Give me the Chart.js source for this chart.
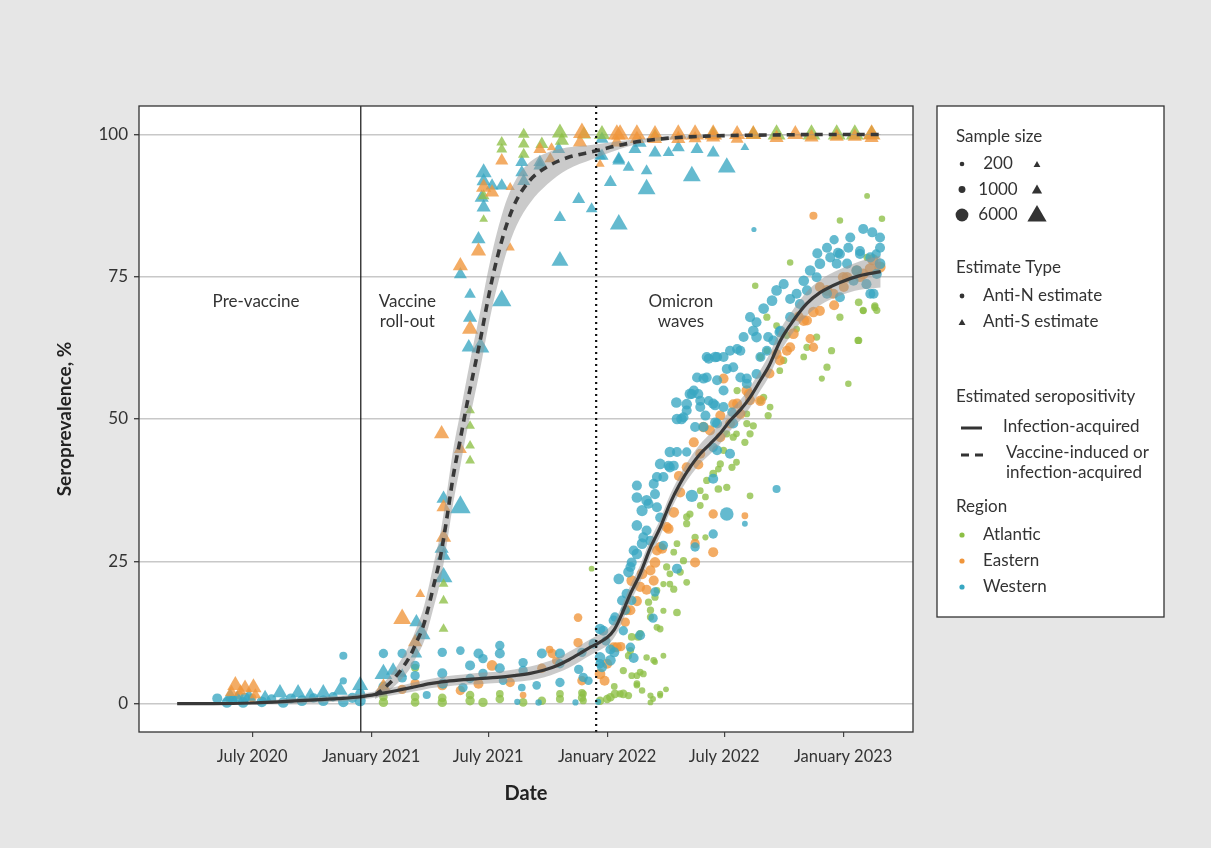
<!DOCTYPE html>
<html>
<head>
<meta charset="utf-8">
<title>Seroprevalence over time</title>
<script src="https://cdn.jsdelivr.net/npm/chart.js@4.4.1/dist/chart.umd.min.js"></script>
<style>
  html, body { margin: 0; padding: 0; background: #e6e6e6; }
  #wrap { width: 1211px; height: 848px; }
</style>
</head>
<body>
<div id="wrap"><canvas id="seroChart" width="1211" height="848"></canvas></div>
<script>
// x values are days since 1 July 2020
const tickDays = [0, 184, 365, 549, 730, 914];
const tickLabels = ['July 2020', 'January 2021', 'July 2021', 'January 2022', 'July 2022', 'January 2023'];
const yTicks = [0, 25, 50, 75, 100];

const vaccineStartDay = 168; // solid vertical line
const omicronDay = 532;      // dotted vertical line

const phaseLabels = [
  { lines: ['Pre-vaccine'], x: 6, y: 70.6 },
  { lines: ['Vaccine', 'roll-out'], x: 240, y: 70.6 },
  { lines: ['Omicron', 'waves'], x: 663, y: 70.6 }
];

// points: [day, seroprevalence %, sample size]
const westernN = [
  [-54,0.9,2500],[-39,0.2,3000],[-30,0.6,2000],[-14,0.2,3000],[-11,1.0,2500],[15,0.3,3000],[30,0.8,2000],
  [48,0.2,3000],[77,0.5,3000],[95,1.0,2000],[110,0.5,3000],[125,1.2,2000],[141,0.3,3000],[167,0.5,3500],
  [167,1.7,2500],[141,8.4,1200],[141,4.0,800],[60,0.9,2500],[155,1.0,2500],
  [203,8.8,2000],[232,8.8,2000],[252,6.7,2000],[252,4.9,2000],[294,9.0,2000],[294,5.3,2500],[322,9.3,1500],
  [337,6.7,2500],[350,8.8,2500],[357,7.9,2000],[383,10.2,2000],[383,8.8,2500],[383,6.2,2500],[419,7.2,2000],
  [419,5.8,2000],[448,8.8,2500],[476,8.8,2500],[476,7.0,2000],[510,9.0,2000],[538,7.0,2000],[295,3.5,2500],
  [326,2.8,2000],[337,4.4,2000],[357,5.3,2000],[388,4.0,1500],[417,2.8,1000],[440,3.2,1500],[476,3.7,2000],
  [443,0.2,500],[203,3.0,2500],[232,4.5,2000],[270,1.5,1200],[410,0.3,400],[505,6.0,2000],[520,4.0,1500],
  [535,0.3,400],[500,0.2,400],
  [512,4.6,2000],[538,13.1,3000],[538,8.1,3000],[554,7.6,3000],[541,6.4,2500],[585,9.9,2000],[561,15.2,2000],
  [574,12.8,2000],[577,16.4,2000],[572,18.1,2500],[587,18.1,2000],[579,19.3,2500],[567,21.9,3000],[582,23.1,3000],
  [587,24.8,2500],[595,26.3,3000],[603,28.1,3000],[616,28.6,2500],[610,30.4,2500],[595,31.3,3000],[631,32.7,2500],
  [603,33.9,3500],[613,35.1,2500],[626,34.5,2500],[610,35.7,3000],[595,36.2,3000],[623,36.8,2500],[595,38.3,2500],
  [626,39.8,2500],[636,39.8,2500],[631,42.1,3000],[644,41.8,2500],[652,41.8,2500],[646,44.2,3000],[657,44.2,2500],
  [672,44.2,2000],[656,52.9,3000],[672,52.6,3000],[672,51.5,2500],[680,54.4,2500],[693,53.2,2500],[706,53.2,2000],
  [701,50.6,2500],[716,52.4,2500],[729,55.0,2500],[657,50.0,3000],[664,50.0,3000],[685,48.6,2500],[698,48.6,2500],
  [716,49.4,2500],[742,51.2,2000],[734,33.3,6000],[762,31.6,300],[713,29.8,2000],[713,39.5,2500],[811,37.7,1200],
  [680,36.5,4500],[657,23.7,2500],[636,27.8,2000],[623,19.6,2000],[685,27.5,2000],[713,45.0,2000],[600,12.0,2500],
  [590,8.0,2500],[620,15.0,2000],[560,9.0,2500],[547,11.0,2000],
  [667,50.3,2500],[677,54.4,3000],[688,57.3,2500],[698,57.1,2500],[706,60.6,2500],[716,60.9,3000],[729,60.9,2500],
  [739,62.0,2500],[750,62.3,2500],[734,58.8,2500],[719,56.8,2500],[755,57.3,2500],[765,57.1,2500],[775,65.5,3000],
  [780,64.4,3000],[760,64.4,2500],[791,69.4,3000],[804,70.8,3000],[811,72.6,3000],[822,73.7,2500],[832,71.1,2500],
  [842,72.0,2500],[853,74.3,3000],[863,76.1,3000],[878,77.3,3000],[894,78.4,2500],[909,79.0,2500],[920,77.3,2500],
  [935,76.1,3000],[950,73.7,2500],[961,72.0,2500],[971,77.3,3000],[806,63.8,2500],[816,65.3,3000],[798,64.4,2500],
  [770,67.9,2500],[780,67.0,2500],[690,54.4,2500],[693,52.1,2500],[847,70.2,2500],[889,72.0,2500],[909,71.4,2500],
  [930,74.3,2500],[956,72.0,2500],[719,44.5,2500],[739,43.9,2500],[925,81.9,2500],[945,83.4,2500],[959,82.8,2500],
  [971,81.9,2500],[889,80.1,2500],[906,79.2,2500],[874,79.1,2500],[922,80.1,2500],[971,80.1,2500],[956,78.4,2500],
  [940,79.5,2500],[900,81.5,2000],[965,79.0,2000],[776,83.3,150],
  [703,60.9,2500],[719,60.9,2500],[755,62.0,2500],[786,60.9,2500],[796,62.0,2500],[744,59.1,2500],[703,57.3,2500],
  [683,55.0,2500],[713,52.7,2500],[729,52.1,2500],[719,49.2,2500],[744,49.2,2500],[765,56.2,2500],[780,57.9,2500],
  [817,65.5,2500],[832,67.9,2500],[858,72.6,2500],[873,74.9,2500],[904,77.3,2500],[940,79.0,2500],[966,75.5,2500],
  [646,41.5,2500],[621,38.6,2500],[605,29.2,2500],[590,26.9,2500],[585,24.0,2500],[559,14.6,2500],[543,12.8,2500],
  [528,10.5,2500],[554,9.5,2500]
];

const easternN = [
  [-20,1.5,1500],[0,1.0,1500],[-35,0.8,1000],
  [371,6.7,3000],[399,3.7,2000],[464,8.8,2000],[504,10.7,2000],[504,15.1,1500],[252,3.5,2000],[294,3.2,2500],
  [322,2.3,2000],[350,3.5,2500],[448,6.2,2000],[510,4.0,2000],[460,9.5,1000],[470,7.5,1200],[232,2.5,2000],
  [419,1.5,600],
  [538,5.2,3000],[559,9.9,2500],[579,16.4,2500],[587,21.6,3000],[603,22.8,3000],[623,24.8,3000],[621,21.6,2500],
  [634,27.2,2500],[626,26.9,2500],[644,30.7,2500],[652,33.6,3000],[662,37.1,2500],[685,28.1,2000],[713,26.6,2500],
  [685,24.8,2500],[713,33.3,2000],[762,33.0,600],[698,48.6,3000],[683,45.9,2500],[708,48.0,2500],[724,50.6,2500],
  [744,52.6,2500],[768,54.4,2500],[786,53.2,3000],[577,14.3,2000],[729,57.1,2500],[750,52.7,2500],[765,55.0,3000],
  [816,60.3,2500],[827,62.0,2500],[837,65.0,3000],[853,67.3,3000],[868,68.8,3000],[889,72.6,3000],[899,72.0,2500],
  [914,74.9,3000],[935,76.1,3000],[956,76.4,3500],[971,76.7,3500],[868,62.6,2000],[863,64.1,2000],[920,74.9,3000],
  [878,73.2,2500],[868,85.7,1200],[545,4.0,2500],[570,10.0,2000],[595,18.0,2500],[610,20.0,2500],[660,40.0,2500],
  [690,42.0,2500],[800,58.0,2500],[960,78.0,3500],[940,75.0,3000],[900,70.0,2500],[845,68.0,2500],
  [811,61.4,2500],[832,62.6,2500],[858,67.3,2500],[878,69.0,2500],[915,73.2,2500],[945,75.5,3000],[770,53.3,2500],
  [755,50.9,2500],[739,49.2,2500],[724,46.8,2500],[693,43.9,2500],[672,41.5,2500],[641,31.0,2500],[631,27.5,2500],
  [616,23.4,2500],[600,20.5,2500],[585,16.4,2500],[564,9.9,2500],[549,7.0,2500]
];

const atlanticN = [
  [203,0.2,2000],[252,0.2,1500],[294,0.2,2000],[337,0.5,2000],[357,0.2,2000],[383,0.8,1500],[419,0.2,1500],
  [448,0.5,1500],[476,0.8,1200],[510,1.0,1200],[538,0.5,1500],[549,0.8,1500],[252,6.3,1200],[383,1.7,1000],
  [476,1.7,1000],[510,1.9,1000],[203,1.2,1500],[294,1.0,1500],[337,1.5,1500],[252,1.2,1500],
  [512,1.7,800],[512,0.5,800],[554,1.1,1500],[561,1.7,1500],[574,1.7,1500],[582,1.4,800],[603,2.3,500],
  [616,1.4,400],[631,1.4,300],[616,0.2,300],[595,3.2,500],[610,8.1,500],[623,7.3,300],[636,8.4,300],[574,5.8,800],
  [587,4.9,600],[595,4.9,600],[582,8.4,800],[587,11.7,1000],[597,11.7,1000],[626,13.4,600],[631,13.1,600],
  [616,15.2,800],[657,16.0,1000],[636,16.3,400],[613,17.8,800],[623,18.7,800],[646,21.0,600],[652,20.1,800],
  [636,21.0,400],[662,23.1,800],[672,21.3,600],[646,22.8,600],[652,26.6,600],[667,25.1,800],[685,29.2,800],
  [701,29.2,400],[672,31.6,800],[677,33.3,800],[693,34.8,600],[701,36.3,600],[721,37.7,1000],[734,38.0,800],
  [770,36.5,600],[713,40.4,1000],[721,41.2,600],[742,41.5,800],[749,42.4,600],[729,44.5,800],[734,47.4,800],
  [749,47.4,600],[762,45.9,800],[770,47.4,800],[775,48.8,800],[798,50.6,800],[786,53.2,800],[525,23.7,300],
  [778,73.4,500],[832,77.5,500],[796,67.9,800],[811,66.4,600],[827,64.7,800],[842,65.8,600],[858,62.6,800],
  [873,64.4,800],[889,59.1,800],[881,57.1,400],[853,60.9,600],[896,62.0,800],[909,67.9,800],[938,70.5,1000],
  [938,63.8,800],[922,56.2,500],[945,69.1,800],[963,69.9,800],[966,69.1,800],[822,60.3,800],[816,58.5,600],
  [786,60.9,800],[796,62.0,600],[750,55.0,800],[765,50.9,600],[951,89.2,300],[974,85.2,500],[909,84.9,500],
  [951,78.4,800],[963,69.6,800],[945,69.0,600],[937,63.8,800],[620,0.8,300],[640,2.5,300],[560,3.0,600],[600,5.5,600],
  [791,53.8,800],[801,52.1,600],[765,49.2,800],[744,46.8,800],[724,42.1,800],[703,39.2,800],[693,37.4,600],
  [672,32.8,800],[657,28.1,600],[641,24.0,800],[626,19.9,600],[616,16.4,800],[600,12.3,800],[585,9.3,800],
  [621,7.6,600],[605,5.2,600],[631,1.7,400],[569,1.7,800],[595,3.5,600]
];

const westernS = [
  [-34,1.2,2500],[-23,0.8,2500],[43,1.9,2500],[71,1.9,2500],[110,1.9,2500],[136,2.3,2500],[167,3.2,3000],
  [20,1.0,2000],[-5,1.2,2000],[90,1.4,2000],
  [203,5.2,4000],[218,5.8,2000],[232,5.2,500],[254,14.3,2000],[262,12.2,4000],[254,8.7,1000],[293,27.2,2000],
  [296,26.0,2000],[296,22.2,4000],[296,36.0,2000],[322,34.5,6000],[322,75.4,1500],[335,62.6,2000],[337,67.8,2000],
  [337,71.9,1000],[353,62.6,4000],[350,81.6,2000],[358,87.2,2000],[355,88.9,2000],[358,91.8,2000],[358,93.3,3000],
  [371,91.0,1500],[386,91.0,1500],[386,70.8,5000],[417,95.1,1500],[417,93.3,1500],[420,91.8,1500],[445,95.1,1500],
  [445,94.5,1500],[474,97.4,1500],[476,85.4,1200],[476,77.8,3500],[505,88.6,1500],[525,86.9,1000],[554,91.6,1500],
  [567,84.2,4000],[567,95.7,1500],[541,96.2,1500],[567,95.4,1500],[582,94.2,1000],[610,93.6,1000],[623,96.8,1500],
  [644,96.8,1000],[659,97.7,1500],[688,97.4,1500],[713,96.8,1500],[680,92.7,4000],[734,94.2,4000],[610,90.4,4000],
  [762,97.7,300],[592,97.4,1500],[538,96.2,1000],[541,99.2,1500],[600,98.5,1500]
];

const easternS = [
  [-26,3.2,3000],[-11,2.8,2000],[2,2.8,3000],[-18,2.2,1000],[5,1.5,1000],[-32,2.0,1500],
  [203,2.9,2500],[232,14.9,4000],[260,19.2,500],[252,10.8,2000],[296,34.5,2000],[296,29.2,2500],[293,47.4,2500],
  [322,44.7,1500],[337,65.8,3000],[322,76.9,2500],[350,79.5,2500],[358,90.7,2500],[371,89.8,2000],[386,95.4,1500],
  [399,90.7,400],[399,80.1,400],[445,97.4,1500],[463,97.7,400],[461,95.7,1000],[510,100.3,4000],[507,98.6,2000],
  [538,94.8,400],[564,100.0,4000],[564,98.6,2000],
  [569,100.0,4000],[595,100.0,4000],[623,100.0,3000],[659,100.0,4000],[685,100.0,4000],[713,100.0,4000],
  [750,100.0,3000],[775,100.0,3000],[840,100.0,3000],[958,100.0,4000],[595,99.2,2000],[623,99.2,2000],
  [659,99.2,2000],[713,99.5,2000],[811,99.4,2000],[865,99.5,2000],[904,99.6,2000],[932,99.6,2000],[958,99.4,2000],
  [750,99.2,1500],[685,99.3,1500]
];

const atlanticS = [
  [296,21.0,500],[296,18.1,500],[296,13.1,500],[337,51.5,500],[337,48.8,500],[337,45.3,500],[337,42.7,500],
  [358,89.2,1000],[358,85.1,300],[386,98.6,800],[386,97.4,800],[420,100.0,1000],[420,98.3,1000],[420,96.5,1000],
  [448,98.3,1500],[476,100.3,3000],[479,98.9,2000],[513,100.0,2000],[541,100.0,3000],
  [811,100.0,4000],[865,100.0,4000],[904,100.0,4000],[932,100.0,4000],[958,100.0,3000],[775,100.0,2500],
  [713,100.0,2500],[623,99.6,2000]
];

// fitted curves
const infDays  = [-116,-60,0,40,90,140,168,200,224,250,275,300,327,352,379,405,430,452,472,490,507,523,538,549,560,569,585,600,616,631,646,662,677,693,708,724,739,755,770,786,800,817,837,858,878,909,940,972];
const infMid   = [0,0,0.1,0.3,0.6,0.9,1.2,1.8,2.3,2.9,3.5,3.9,4.2,4.4,4.6,4.9,5.3,5.9,6.7,7.7,8.8,9.9,10.8,11.6,13.0,15.0,19.3,22.8,27.4,30.9,35.1,38.7,41.5,43.9,45.6,47.5,49.7,51.6,53.8,56.8,59.5,63.8,67.3,70.3,72.2,74.0,75.2,75.9];
const infLow   = [0,0,0,-0.1,0.1,0.4,0.7,1.2,1.6,2.1,2.7,3.0,3.3,3.4,3.6,3.8,4.1,4.6,5.4,6.3,7.4,8.5,9.4,10.2,11.6,13.5,17.8,21.3,25.9,29.4,33.6,37.2,39.9,42.2,43.8,45.7,47.9,49.8,52.0,55.0,57.6,61.8,65.3,68.2,70.0,71.7,72.7,73.1];
const infHigh  = [0.1,0.1,0.3,0.7,1.1,1.4,1.7,2.4,3.0,3.7,4.3,4.8,5.1,5.4,5.6,6.0,6.5,7.2,8.0,9.1,10.2,11.3,12.2,13.0,14.4,16.5,20.8,24.3,28.9,32.4,36.6,40.2,43.1,45.6,47.4,49.3,51.5,53.4,55.6,58.6,61.4,65.8,69.3,72.4,74.4,76.3,77.7,78.7];

const vacDays  = [190,203,218,232,244,255,264,272,280,291,301,311,322,332,342,353,363,373,384,394,409,430,456,487,527,560,600,650,700,800,900,972];
const vacMid   = [1.5,2.6,4.2,6.2,8.3,11.0,13.4,16.6,20.4,25.7,32.5,40.0,46.5,52.5,58.0,64.0,70.0,75.5,80.5,84.3,88.5,92.0,94.3,95.9,97.0,97.9,98.8,99.4,99.7,99.9,100.0,100.0];
const vacLow   = [0.8,1.6,2.8,4.4,6.1,8.4,10.4,13.2,16.6,21.5,28.0,35.3,41.8,47.8,53.0,59.0,65.0,70.5,75.5,79.5,84.0,88.0,91.2,93.8,95.7,97.1,98.4,99.1,99.5,99.8,99.9,99.9];
const vacHigh  = [2.2,3.6,5.6,8.0,10.5,13.6,16.4,20.0,24.2,29.9,37.0,44.7,51.2,57.2,63.0,69.0,75.0,80.2,85.0,88.6,92.3,95.2,96.8,97.7,98.2,98.7,99.2,99.7,99.9,100.0,100.1,100.1];

const legendSizes = [200, 1000, 6000];
const regionNames = ['Atlantic', 'Eastern', 'Western'];
const regionColors = ['#8dbf45', '#f0953a', '#38a7c2'];
const regionFills = ['rgba(141,191,69,0.78)', 'rgba(240,149,58,0.78)', 'rgba(56,167,194,0.78)'];

function dotRadius(n) {
  return 1.8 + 5 * Math.sqrt(n / 6000);
}
function triRadius(n) {
  return 1.75 * dotRadius(n);
}

function toPoints(arr) {
  return arr.map(p => ({ x: p[0], y: p[1], n: p[2] }));
}
function toLine(days, vals) {
  return days.map((d, i) => ({ x: d, y: vals[i] }));
}

function scatterSet(label, arr, fill, style, order) {
  return {
    type: 'scatter',
    label: label,
    data: toPoints(arr),
    pointStyle: style,
    backgroundColor: fill,
    pointBackgroundColor: fill,
    pointBorderWidth: 0,
    pointRadius: ctx => style === 'triangle' ? triRadius(ctx.raw.n) : dotRadius(ctx.raw.n),
    order: order
  };
}

function lineSet(data, opts) {
  return Object.assign({
    type: 'line',
    data: data,
    pointRadius: 0,
    fill: false,
    cubicInterpolationMode: 'monotone'
  }, opts);
}

const FONT = "Lato, 'Noto Sans', sans-serif";
const TEXT = '#333333';

const decor = {
  id: 'decor',
  beforeDraw(chart) {
    const { ctx, chartArea: a } = chart;
    ctx.save();
    ctx.fillStyle = '#e6e6e6';
    ctx.fillRect(0, 0, chart.width, chart.height);
    ctx.fillStyle = '#ffffff';
    ctx.fillRect(a.left, a.top, a.right - a.left, a.bottom - a.top);
    ctx.restore();
  },
  afterDraw(chart) {
    const { ctx, chartArea: a } = chart;
    const xs = chart.scales.x, ys = chart.scales.y;
    ctx.save();
    // phase labels
    ctx.font = '17px ' + FONT;
    ctx.fillStyle = TEXT;
    ctx.textAlign = 'center';
    ctx.textBaseline = 'middle';
    phaseLabels.forEach(p => {
      const px = xs.getPixelForValue(p.x);
      const py = ys.getPixelForValue(p.y);
      p.lines.forEach((t, i) => ctx.fillText(t, px, py + i * 20));
    });
    // panel border
    ctx.strokeStyle = '#333';
    ctx.lineWidth = 1.3;
    ctx.strokeRect(a.left, a.top, a.right - a.left, a.bottom - a.top);
    drawLegend(ctx);
    ctx.restore();
  }
};

function drawLegend(ctx) {
  const L = 937, T = 106, W = 227, H = 511;
  ctx.fillStyle = '#fff';
  ctx.fillRect(L, T, W, H);
  ctx.strokeStyle = '#333';
  ctx.lineWidth = 1.3;
  ctx.strokeRect(L, T, W, H);

  ctx.font = '17px ' + FONT;
  ctx.textBaseline = 'middle';
  ctx.fillStyle = TEXT;
  ctx.textAlign = 'left';
  ctx.fillText('Sample size', 956, 137);

  legendSizes.forEach((n, i) => {
    const y = 164 + i * 25.5;
    ctx.fillStyle = '#333';
    Chart.helpers.drawPoint(ctx, { pointStyle: 'circle', radius: dotRadius(n) - 0.4, rotation: 0, borderWidth: 0 }, 962, y);
    Chart.helpers.drawPoint(ctx, { pointStyle: 'triangle', radius: triRadius(n) - 0.8, rotation: 0, borderWidth: 0 }, 1037, y + 1);
    ctx.fillStyle = TEXT;
    ctx.textAlign = 'center';
    ctx.fillText(String(n), 998, y);
  });

  ctx.textAlign = 'left';
  ctx.fillText('Estimate Type', 956, 268);
  ctx.fillStyle = '#333';
  Chart.helpers.drawPoint(ctx, { pointStyle: 'circle', radius: 2.4, rotation: 0, borderWidth: 0 }, 962, 296);
  Chart.helpers.drawPoint(ctx, { pointStyle: 'triangle', radius: 4, rotation: 0, borderWidth: 0 }, 962, 323);
  ctx.fillStyle = TEXT;
  ctx.fillText('Anti-N estimate', 983, 296);
  ctx.fillText('Anti-S estimate', 983, 322);

  ctx.fillText('Estimated seropositivity', 956, 397);
  ctx.strokeStyle = '#333';
  ctx.lineWidth = 3;
  ctx.beginPath();
  ctx.moveTo(961, 428);
  ctx.lineTo(982, 428);
  ctx.stroke();
  ctx.setLineDash([8, 6]);
  ctx.beginPath();
  ctx.moveTo(961, 455);
  ctx.lineTo(984, 455);
  ctx.stroke();
  ctx.setLineDash([]);
  ctx.fillText('Infection-acquired', 1003, 427);
  ctx.fillText('Vaccine-induced or', 1006, 453);
  ctx.fillText('infection-acquired', 1006, 473);

  ctx.fillText('Region', 956, 507);
  regionNames.forEach((name, i) => {
    const y = 535 + i * 26;
    ctx.fillStyle = regionColors[i];
    Chart.helpers.drawPoint(ctx, { pointStyle: 'circle', radius: 2.6, rotation: 0, borderWidth: 0 }, 962, y);
    ctx.fillStyle = TEXT;
    ctx.fillText(name, 983, y);
  });
}

const datasets = [
  lineSet([{ x: vaccineStartDay, y: -5 }, { x: vaccineStartDay, y: 105 }], { borderColor: '#111', borderWidth: 1.2, cubicInterpolationMode: 'default', order: 0 }),
  lineSet([{ x: omicronDay, y: -5 }, { x: omicronDay, y: 105 }], { borderColor: '#111', borderWidth: 2.2, borderDash: [2, 4], cubicInterpolationMode: 'default', order: 0 }),
  lineSet(toLine(infDays, infMid), { borderColor: '#383838', borderWidth: 3.2, order: 1 }),
  lineSet(toLine(vacDays, vacMid), { borderColor: '#383838', borderWidth: 3.6, borderDash: [8, 6], order: 1 }),
  lineSet(toLine(infDays, infLow), { borderWidth: 0, order: 2 }),
  lineSet(toLine(infDays, infHigh), { borderWidth: 0, fill: '-1', backgroundColor: 'rgba(150,150,150,0.5)', order: 2 }),
  lineSet(toLine(vacDays, vacLow), { borderWidth: 0, order: 2 }),
  lineSet(toLine(vacDays, vacHigh), { borderWidth: 0, fill: '-1', backgroundColor: 'rgba(150,150,150,0.5)', order: 2 }),
  scatterSet('Atlantic Anti-N', atlanticN, regionFills[0], 'circle', 8),
  scatterSet('Eastern Anti-N', easternN, regionFills[1], 'circle', 7),
  scatterSet('Western Anti-N', westernN, regionFills[2], 'circle', 6),
  scatterSet('Western Anti-S', westernS, regionFills[2], 'triangle', 5),
  scatterSet('Atlantic Anti-S', atlanticS, regionFills[0], 'triangle', 4),
  scatterSet('Eastern Anti-S', easternS, regionFills[1], 'triangle', 3)
];

Chart.defaults.font.family = FONT;
Chart.defaults.color = TEXT;

new Chart(document.getElementById('seroChart'), {
  type: 'scatter',
  data: { datasets: datasets },
  plugins: [decor],
  options: {
    responsive: false,
    devicePixelRatio: 1,
    animation: false,
    events: [],
    layout: { padding: { left: 0, top: 106, right: 298, bottom: 0 } },
    plugins: {
      legend: { display: false },
      tooltip: { enabled: false }
    },
    scales: {
      x: {
        type: 'linear',
        min: -175,
        max: 1022,
        afterBuildTicks: scale => { scale.ticks = tickDays.map(v => ({ value: v })); },
        afterFit: scale => { scale.height = 116; },
        ticks: {
          autoSkip: false,
          maxRotation: 0,
          padding: 10,
          color: TEXT,
          font: { size: 16.5 },
          callback: value => tickLabels[tickDays.indexOf(value)]
        },
        grid: { drawOnChartArea: false, drawTicks: true, tickLength: 5, tickColor: '#444', lineWidth: 1.2 },
        border: { display: false },
        title: { display: true, text: 'Date', color: '#222', font: { size: 20, weight: 'bold' }, padding: { top: 0, bottom: 42 } }
      },
      y: {
        type: 'linear',
        min: -5,
        max: 105,
        afterBuildTicks: scale => { scale.ticks = yTicks.map(v => ({ value: v })); },
        afterFit: scale => { scale.width = 139; },
        ticks: { padding: 6, color: TEXT, font: { size: 17 } },
        grid: { color: '#c8c8c8', lineWidth: 1.4, tickLength: 5, tickColor: '#444' },
        border: { display: false },
        title: { display: true, text: 'Seroprevalence, %', color: '#222', font: { size: 19, weight: 'bold' }, padding: { top: 53, bottom: 0 } }
      }
    }
  }
});
</script>
</body>
</html>
